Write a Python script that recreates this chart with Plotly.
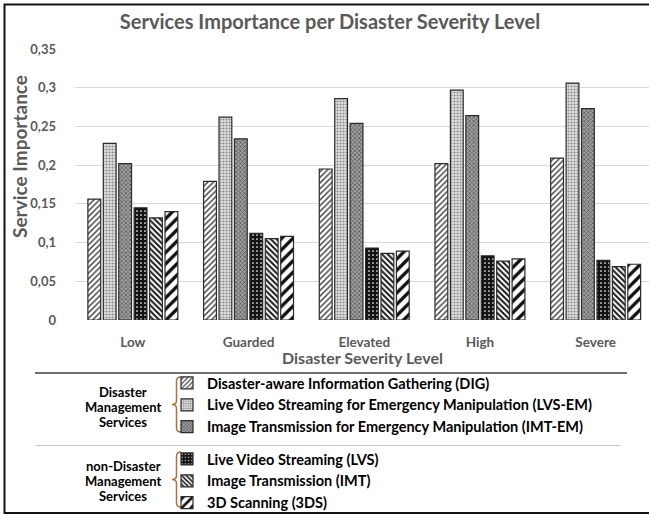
import plotly.graph_objects as go

# ---------------- data ----------------
categories = ["Low", "Guarded", "Elevated", "High", "Severe"]
dig = [0.156, 0.179, 0.195, 0.202, 0.209]
lvs_em = [0.228, 0.262, 0.286, 0.297, 0.306]
imt_em = [0.202, 0.234, 0.254, 0.264, 0.273]
lvs = [0.145, 0.112, 0.093, 0.083, 0.077]
imt = [0.132, 0.105, 0.086, 0.076, 0.069]
tds = [0.140, 0.108, 0.089, 0.079, 0.072]

series_names = [
    "Disaster-aware Information Gathering (DIG)",
    "Live Video Streaming for Emergency Manipulation (LVS-EM)",
    "Image Transmission for Emergency Manipulation (IMT-EM)",
    "Live Video Streaming (LVS)",
    "Image Transmission (IMT)",
    "3D Scanning (3DS)",
]
series_values = [dig, lvs_em, imt_em, lvs, imt, tds]
series_legend = ["legend", "legend", "legend", "legend2", "legend2", "legend2"]

y_ticks = [0, 0.05, 0.1, 0.15, 0.2, 0.25, 0.3, 0.35]
y_tick_labels = ["0", "0,05", "0,1", "0,15", "0,2", "0,25", "0,3", "0,35"]

title_text = "Services Importance per Disaster Severity Level"
x_title = "Disaster Severity Level"
y_title = "Service Importance"
group1_label = ["Disaster", "Management", "Services"]
group2_label = ["non-Disaster", "Management", "Services"]

# ---------------- styles ----------------
W, H = 649, 517
ML, MR, MT, MB = 75, 0, 49, 197
PW = W - ML - MR
PH = H - MT - MB
FONT = "Lato"
GREY_TXT = "#595959"

patterns = [
    dict(shape="/", bgcolor="white", fgcolor="#3a3a3a", size=4, solidity=0.35, fillmode="replace"),
    dict(shape=".", bgcolor="#e2e2e2", fgcolor="#8a8a8a", size=3, solidity=0.4, fillmode="replace"),
    dict(shape="x", bgcolor="#a0a0a0", fgcolor="#5a5a5a", size=3, solidity=0.45, fillmode="replace"),
    dict(shape=".", bgcolor="#141414", fgcolor="#ffffff", size=4, solidity=0.15, fillmode="replace"),
    dict(shape="\\", bgcolor="white", fgcolor="#1a1a1a", size=4, solidity=0.5, fillmode="replace"),
    dict(shape="/", bgcolor="white", fgcolor="#111111", size=8, solidity=0.42, fillmode="replace"),
]


def px(x):
    return (x - ML) / PW


def py(y):
    return (H - MB - y) / PH


fig = go.Figure()
for name, vals, pat, leg in zip(series_names, series_values, patterns, series_legend):
    fig.add_trace(go.Bar(
        x=categories, y=vals, name=name, legend=leg,
        marker=dict(color=pat["bgcolor"], pattern=pat,
                    line=dict(color="#2b2b2b", width=1.2)),
    ))

shapes = []
# outer frame
shapes.append(dict(type="rect", xref="paper", yref="paper",
                   x0=px(4.5), x1=px(720), y0=py(513), y1=py(4.5),
                   line=dict(color="#111111", width=2), fillcolor="rgba(0,0,0,0)", layer="above"))
# legend separator lines
shapes.append(dict(type="line", xref="paper", yref="paper",
                   x0=px(35), x1=px(627), y0=py(373), y1=py(373),
                   line=dict(color="#404040", width=1.6)))
shapes.append(dict(type="line", xref="paper", yref="paper",
                   x0=px(36), x1=px(620), y0=py(445.5), y1=py(445.5),
                   line=dict(color="#c8c8c8", width=1.2)))


def brace(xtip, xr, ytop, ybot):
    ym = (ytop + ybot) / 2
    xm = (xtip + xr) / 2
    r = 4
    pts = [
        ("M", [(xr, ytop)]),
        ("Q", [(xm, ytop), (xm, ytop + r)]),
        ("L", [(xm, ym - r)]),
        ("Q", [(xm, ym), (xtip, ym)]),
        ("Q", [(xm, ym), (xm, ym + r)]),
        ("L", [(xm, ybot - r)]),
        ("Q", [(xm, ybot), (xr, ybot)]),
    ]
    s = ""
    for cmd, ps in pts:
        s += cmd + " " + " ".join(f"{px(a):.5f},{py(b):.5f}" for a, b in ps) + " "
    return dict(type="path", xref="paper", yref="paper", path=s.strip(),
                line=dict(color="#b0703a", width=1.5))


shapes.append(brace(172, 181, 377, 432))
shapes.append(brace(172, 181, 452, 507))

annotations = []
annotations.append(dict(text=x_title, xref="paper", yref="paper", x=px(362), y=py(358),
                        showarrow=False, xanchor="center", yanchor="middle",
                        font=dict(family=FONT, size=16, color=GREY_TXT, weight="bold")))
annotations.append(dict(text=y_title, xref="paper", yref="paper", x=px(19), y=py(157),
                        showarrow=False, xanchor="center", yanchor="middle", textangle=-90,
                        font=dict(family=FONT, size=19, color=GREY_TXT, weight="bold")))
for txt, yy in zip(group1_label, [392, 407, 422]):
    annotations.append(dict(text=txt, xref="paper", yref="paper", x=px(123), y=py(yy),
                            showarrow=False, xanchor="center", yanchor="middle",
                            font=dict(family=FONT, size=13, color="black", weight="bold")))
for txt, yy in zip(group2_label, [466, 481, 495.5]):
    annotations.append(dict(text=txt, xref="paper", yref="paper", x=px(123), y=py(yy),
                            showarrow=False, xanchor="center", yanchor="middle",
                            font=dict(family=FONT, size=13, color="black", weight="bold")))

legend_font = dict(family=FONT, size=14.5, color="black", weight="bold")

fig.update_layout(
    width=W, height=H,
    margin=dict(l=ML, r=MR, t=MT, b=MB, pad=0, autoexpand=False),
    paper_bgcolor="white", plot_bgcolor="white",
    barmode="group", bargap=0.2, bargroupgap=0.17,
    title=dict(text=title_text, x=330 / W, y=1 - 22 / H, xanchor="center", yanchor="middle",
               xref="container", yref="container", automargin=False,
               font=dict(family=FONT, size=20, color=GREY_TXT, weight="bold")),
    xaxis=dict(range=[-0.5, -0.5 + PW / 115.7], showgrid=False, zeroline=False, showline=False,
               ticks="", ticklabelstandoff=12, fixedrange=True, automargin=False,
               tickfont=dict(family=FONT, size=13.5, color=GREY_TXT, weight="bold")),
    yaxis=dict(range=[0, 0.35], tickvals=y_ticks, ticktext=y_tick_labels,
               showgrid=True, gridcolor="#d9d9d9", gridwidth=1, zeroline=False, showline=False,
               ticks="", ticklabelstandoff=18, fixedrange=True, automargin=False,
               tickfont=dict(family=FONT, size=13, color=GREY_TXT, weight="bold")),
    legend=dict(x=167 / W, y=1 - 367 / H, xref="container", yref="container",
                xanchor="left", yanchor="top", bgcolor="rgba(0,0,0,0)", borderwidth=0,
                font=legend_font, tracegroupgap=0),
    legend2=dict(x=167 / W, y=1 - 443 / H, xref="container", yref="container",
                 xanchor="left", yanchor="top", bgcolor="rgba(0,0,0,0)", borderwidth=0,
                 font=legend_font, tracegroupgap=0),
    shapes=shapes,
    annotations=annotations,
    hovermode=False,
)

fig.write_html(
    "out.html",
    config={"displayModeBar": False},
    post_script="document.body.style.margin='0';document.documentElement.style.overflow='hidden';",
)
